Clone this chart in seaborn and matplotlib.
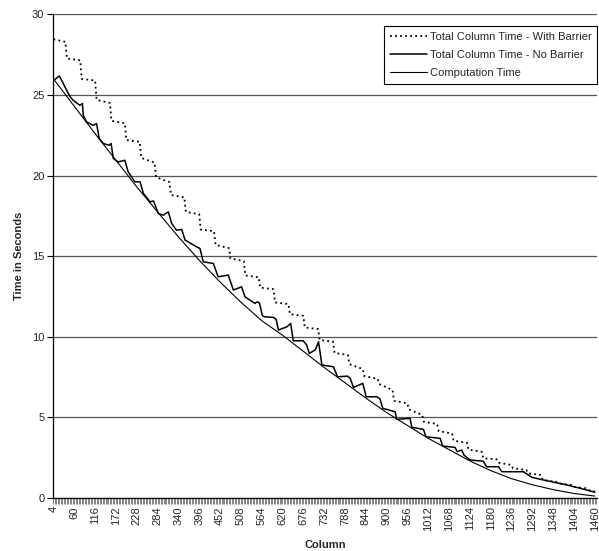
import matplotlib
matplotlib.use("Agg")
import matplotlib.pyplot as plt
import seaborn as sns
from matplotlib.ticker import MultipleLocator

# ---------------- data ----------------
tick_cols = [4, 60, 116, 172, 228, 284, 340, 396, 452, 508, 564, 620, 676, 732,
             788, 844, 900, 956, 1012, 1068, 1124, 1180, 1236, 1292, 1348, 1404, 1460]

# Total Column Time - With Barrier (staircase, start/end of each step)
barrier_cols = [4, 36, 40, 76, 80, 116, 120, 156, 160, 196, 200, 236, 240, 276,
                280, 316, 320, 356, 360, 396, 400, 436, 440, 476, 480, 516, 520, 556,
                560, 596, 600, 636, 640, 676, 680, 716, 720, 756, 760, 796, 800, 836,
                840, 876, 880, 916, 920, 956, 960, 996, 1000, 1036, 1040, 1076, 1080, 1116,
                1120, 1156, 1160, 1196, 1200, 1236, 1240, 1276, 1280, 1316, 1320, 1356,
                1360, 1396, 1400, 1436, 1440, 1460]
barrier_time = [28.45, 28.3, 27.26, 27.15, 26.0, 25.9, 24.7, 24.5, 23.4, 23.25, 22.2, 22.1,
                21.1, 20.8, 19.9, 19.6, 18.8, 18.65, 17.75, 17.6, 16.65, 16.55, 15.7, 15.5,
                14.86, 14.7, 13.8, 13.7, 13.05, 12.95, 12.13, 12.03, 11.4, 11.3, 10.58, 10.48,
                9.8, 9.7, 9.0, 8.87, 8.3, 8.0, 7.56, 7.4, 7.07, 6.7, 6.03, 5.87, 5.5, 5.15,
                4.73, 4.59, 4.15, 4.0, 3.55, 3.43, 3.0, 2.87, 2.46, 2.4, 2.19, 2.05,
                1.84, 1.74, 1.53, 1.43, 1.12, 1.01, 0.91, 0.81, 0.70, 0.60, 0.5, 0.4]

# Total Column Time - No Barrier (sawtooth)
nobarrier_cols = [4, 20, 35, 49, 57, 75, 82, 84, 93, 111, 120, 127, 138, 154, 159, 165,
                  178, 196, 205, 223, 237, 246, 264, 273, 286, 299, 313, 322, 335, 349,
                  358, 389, 398, 407, 434, 447, 474, 488, 510, 519, 546, 552, 558, 566,
                  573, 596, 603, 609, 632, 642, 649, 676, 685, 692, 708, 717, 726, 757,
                  768, 795, 802, 811, 836, 845, 874, 882, 890, 923, 927, 963, 968, 999,
                  1006, 1044, 1051, 1084, 1090, 1102, 1108, 1124, 1150, 1160, 1169, 1201,
                  1210, 1268, 1291, 1331, 1385, 1421, 1460]
nobarrier_time = [25.9, 26.18, 25.5, 24.88, 24.67, 24.36, 24.47, 23.74, 23.33, 23.12, 23.23,
                  22.3, 21.99, 21.88, 21.99, 21.06, 20.85, 20.95, 20.23, 19.61, 19.61, 18.89,
                  18.37, 18.43, 17.65, 17.54, 17.75, 17.03, 16.61, 16.66, 16.0, 15.58, 15.48,
                  14.65, 14.55, 13.72, 13.83, 12.9, 13.1, 12.48, 12.07, 12.17, 12.1, 11.3,
                  11.24, 11.2, 11.08, 10.42, 10.62, 10.83, 9.75, 9.75, 9.49, 8.97, 9.18, 9.69,
                  8.25, 8.14, 7.52, 7.56, 7.42, 6.86, 7.11, 6.28, 6.28, 6.15, 5.56, 5.35, 4.88,
                  4.94, 4.38, 4.26, 3.80, 3.70, 3.22, 3.14, 2.87, 2.98, 2.67, 2.36, 2.3, 2.28,
                  1.94, 1.94, 1.63, 1.63, 1.28, 1.07, 0.81, 0.60, 0.36]

# Computation Time (smooth curve)
comp_cols = tick_cols
comp_time = [26.0, 24.3, 22.6, 20.95, 19.3, 17.75, 16.2, 14.75, 13.4, 12.15, 11.0, 10.1,
             9.1, 8.1, 7.15, 6.2, 5.3, 4.5, 3.7, 3.0, 2.3, 1.7, 1.2, 0.82, 0.52, 0.28, 0.12]

# ---------------- plot ----------------
sns.set_style("white")
plt.rcParams['font.family'] = ['Liberation Sans', 'DejaVu Sans']

fig = plt.figure(figsize=(5.99, 5.51), dpi=100)
ax = fig.add_axes([0.088, 0.0962, 0.9087, 0.8777])

sns.lineplot(x=barrier_cols, y=barrier_time, ax=ax, color='black', lw=1.3,
             linestyle=(0, (1, 1.8)), estimator=None, sort=False,
             label='Total Column Time - With Barrier')
sns.lineplot(x=nobarrier_cols, y=nobarrier_time, ax=ax, color='black', lw=1.1,
             estimator=None, sort=False, label='Total Column Time - No Barrier')
sns.lineplot(x=comp_cols, y=comp_time, ax=ax, color='black', lw=0.8,
             estimator=None, sort=False, label='Computation Time')

ax.set_xlim(2, 1466)
ax.set_ylim(0, 30)
ax.set_yticks([0, 5, 10, 15, 20, 25, 30])
ax.yaxis.grid(True, color='#555555', lw=0.9)
ax.set_axisbelow(True)

ax.set_xticks(tick_cols)
ax.set_xticklabels([str(c) for c in tick_cols], rotation=90, fontsize=8)
ax.xaxis.set_minor_locator(MultipleLocator(4))
ax.tick_params(axis='x', which='both', direction='out', length=4, width=0.5,
               color='#555555', bottom=True, pad=2)
ax.tick_params(axis='y', which='major', direction='out', length=4, width=0.8,
               color='black', left=True, labelsize=8, pad=2)

for s in ['top', 'right']:
    ax.spines[s].set_visible(False)
for s in ['left', 'bottom']:
    ax.spines[s].set_color('black')
    ax.spines[s].set_linewidth(0.9)

ax.set_xlabel('Column', fontsize=8, fontweight='bold', labelpad=6)
ax.set_ylabel('Time in Seconds', fontsize=8, fontweight='bold', labelpad=6)

leg = ax.legend(loc='upper right', bbox_to_anchor=(597 / 599, 1 - 26 / 551),
                bbox_transform=fig.transFigure, fontsize=8, frameon=True,
                fancybox=False, edgecolor='black', framealpha=1,
                handlelength=3.4, handletextpad=0.2, labelspacing=0.75,
                borderpad=0.5, borderaxespad=0)
leg.get_frame().set_linewidth(0.8)

fig.savefig('out.png', dpi=100)
